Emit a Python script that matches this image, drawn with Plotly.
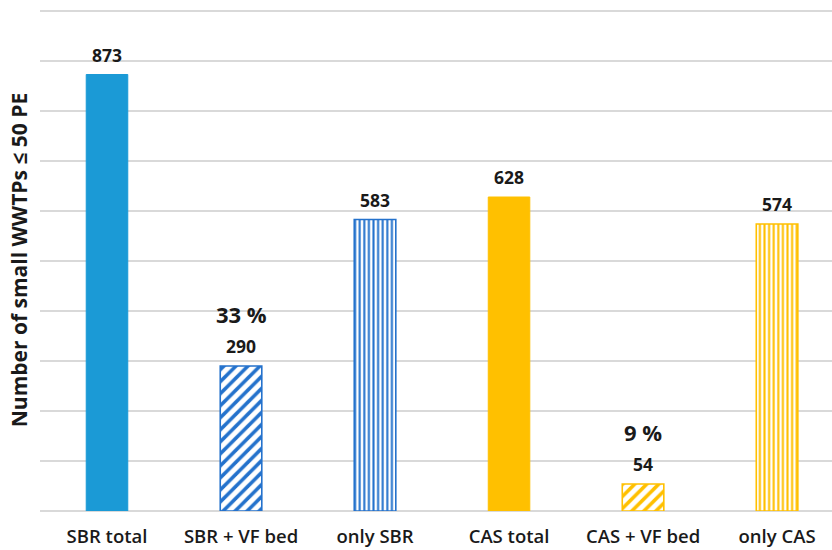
import plotly.graph_objects as go

# Small wastewater treatment plants (≤ 50 PE) by process type
categories = ["SBR total", "SBR + VF bed", "only SBR", "CAS total", "CAS + VF bed", "only CAS"]
counts = [873, 290, 583, 628, 54, 574]
share_labels = ["", "33 %", "", "", "9 %", ""]

blue_solid = "#1B9AD6"
blue_line = "#2472CC"
yellow = "#FFC000"

bar_colors = [blue_solid, blue_line, blue_line, yellow, yellow, yellow]
pattern_shapes = ["", "/", "|", "", "/", "|"]
pattern_sizes = [8, 8.5, 4.6, 8, 8.5, 4.6]
pattern_solidity = [0.3, 0.42, 0.45, 0.3, 0.42, 0.45]

fig = go.Figure()
for cat, val, col, shape, size, sol in zip(categories, counts, bar_colors,
                                           pattern_shapes, pattern_sizes, pattern_solidity):
    if shape:
        marker = dict(
            color="white",
            line=dict(color=col, width=1.6),
            pattern=dict(shape=shape, fgcolor=col, bgcolor="white",
                         size=size, solidity=sol, fillmode="replace"),
        )
    else:
        marker = dict(color=col, line=dict(color=col, width=1))
    fig.add_trace(go.Bar(x=[cat], y=[val], width=0.31, marker=marker,
                         name=cat, hoverinfo="x+y"))

# value labels above bars
for cat, val in zip(categories, counts):
    fig.add_annotation(
        x=cat, y=val, text=str(val), showarrow=False,
        yanchor="bottom", yshift=6,
        font=dict(family="Open Sans", size=17.5, color="#1a1a1a", weight="bold"),
    )

# percentage labels for the VF-bed subsets
for cat, val, pct in zip(categories, counts, share_labels):
    if pct:
        fig.add_annotation(
            x=cat, y=val, text=pct, showarrow=False,
            yanchor="bottom", yshift=35,
            font=dict(family="Open Sans", size=22, color="#1a1a1a", weight="bold"),
        )

fig.update_layout(
    width=832, height=550,
    margin=dict(l=40, r=0, t=9, b=39),
    plot_bgcolor="white", paper_bgcolor="white",
    showlegend=False,
    barmode="overlay",
)
fig.update_xaxes(
    range=[-0.5, 5.41],
    showgrid=False, zeroline=False, showline=False,
    ticks="", ticklabelstandoff=12,
    tickfont=dict(family="Open Sans", size=18.5, color="#1a1a1a", weight=600),
)
fig.update_yaxes(
    range=[0, 1004], tickvals=list(range(0, 1001, 100)),
    showgrid=True, gridcolor="#D9D9D9", gridwidth=1.5,
    zeroline=True, zerolinecolor="#D9D9D9", zerolinewidth=1.5,
    showticklabels=False, ticks="",
    title=dict(
        text="Number of small WWTPs ≤ 50 PE",
        font=dict(family="Open Sans", size=21, color="#1a1a1a", weight="bold"),
        standoff=5,
    ),
)

fig.write_html("out.html")
